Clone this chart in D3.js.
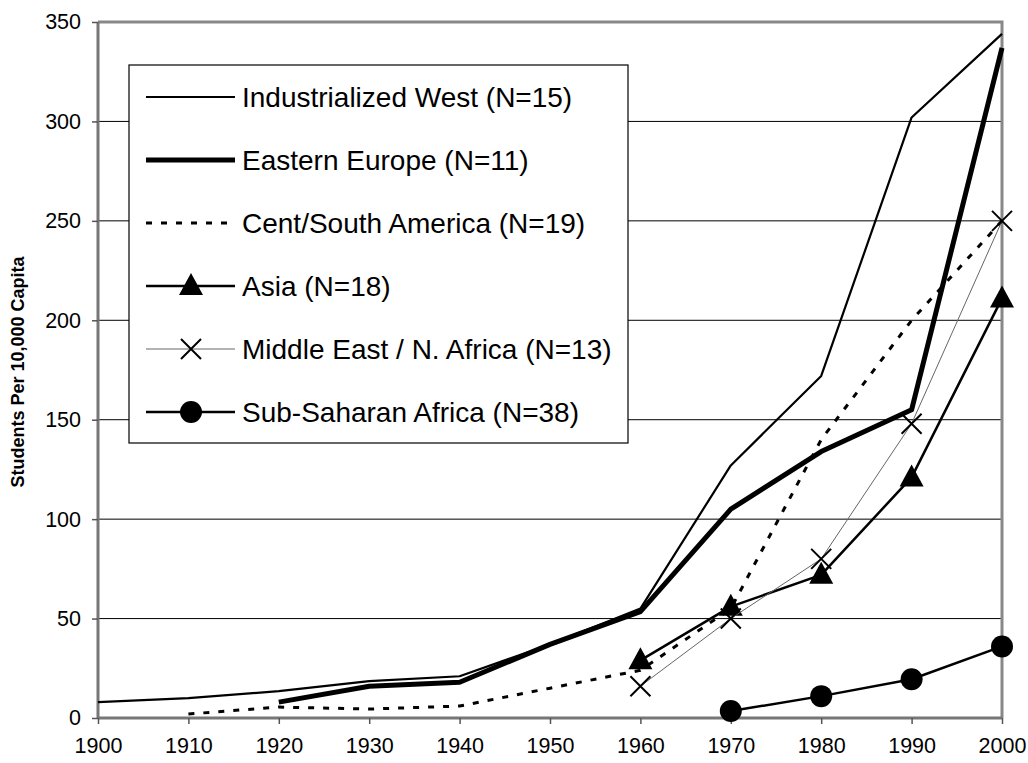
<!DOCTYPE html>
<html><head><meta charset="utf-8">
<script src="https://cdn.jsdelivr.net/npm/d3@7"></script>
<style>body{margin:0;background:#fff}svg{display:block;font-family:"Liberation Sans",Arial,sans-serif}</style>
</head><body><svg id="c" width="1028" height="763"></svg>
<script>
const years = [1900,1910,1920,1930,1940,1950,1960,1970,1980,1990,2000];
const yTicks = [0,50,100,150,200,250,300,350];
const industrializedWest = [8,10,13.5,18.5,21,37,55,127,172,302,344];
const easternEurope = [null,null,8,16,18,37,53.5,105,134,155,337];
const centSouthAmerica = [null,2,5.5,4.5,6,15,24,55,140,200,250];
const asia = [null,null,null,null,null,null,29,56,72,121,211];
const middleEast = [null,null,null,null,null,null,16,50,80,148,250];
const subSaharan = [null,null,null,null,null,null,null,3.5,11,19.5,36];
const seriesNames = ["Industrialized West (N=15)","Eastern Europe (N=11)","Cent/South America (N=19)","Asia (N=18)","Middle East / N. Africa (N=13)","Sub-Saharan Africa (N=38)"];

const series = [
  {name:seriesNames[0], values:industrializedWest, w:2.2, color:"#000", dash:null, marker:null},
  {name:seriesNames[1], values:easternEurope, w:5, color:"#000", dash:null, marker:null},
  {name:seriesNames[2], values:centSouthAmerica, w:3, color:"#000", dash:"6,9", marker:null},
  {name:seriesNames[3], values:asia, w:2.5, color:"#000", dash:null, marker:"tri"},
  {name:seriesNames[4], values:middleEast, w:1, color:"#666", dash:null, marker:"x"},
  {name:seriesNames[5], values:subSaharan, w:2.5, color:"#000", dash:null, marker:"circle"}
];

const svg = d3.select("#c");
const x = d3.scaleLinear().domain([1900,2000]).range([98,1002]);
const y = d3.scaleLinear().domain([0,350]).range([718,22]);

svg.append("g").selectAll("line").data(yTicks.filter(t=>t>0 && t<350)).join("line")
  .attr("x1",98).attr("x2",1002).attr("y1",d=>y(d)).attr("y2",d=>y(d))
  .attr("stroke","#000").attr("stroke-width",1);

svg.append("path").attr("d",`M98,${y(350)}H1002V718`).attr("fill","none").attr("stroke","#888").attr("stroke-width",3);

const yAxis = d3.axisLeft(y).tickValues(yTicks).tickSize(6).tickPadding(11).tickFormat(d3.format("d"));
const gy = svg.append("g").attr("transform","translate(98,0)").call(yAxis);
const xAxis = d3.axisBottom(x).tickValues(years).tickSize(6).tickPadding(14).tickFormat(d3.format("d"));
const gx = svg.append("g").attr("transform","translate(0,718)").call(xAxis);
[gx,gy].forEach(g=>{
  g.select(".domain").attr("stroke","#777").attr("stroke-width",3);
  g.selectAll(".tick line").attr("stroke","#555").attr("stroke-width",1.5);
  g.selectAll(".tick text").attr("font-size",21.5).attr("fill","#000").attr("font-family","Liberation Sans, Arial, sans-serif");
});
gy.select(".domain").attr("d","M0,718V22");
gx.select(".domain").attr("d","M98,0H1002");

svg.append("text").attr("transform","translate(24,372) rotate(-90)").attr("text-anchor","middle")
  .attr("font-size",18).attr("font-weight","bold").text("Students Per 10,000 Capita");

const line = d3.line().defined(d=>d.v!=null).x(d=>x(d.yr)).y(d=>y(d.v));
const plot = svg.append("g");
function drawMarker(g, type, cx, cy){
  if(type==="tri"){
    g.append("path").attr("d",`M${cx},${cy-13}L${cx+12},${cy+9}L${cx-12},${cy+9}Z`).attr("fill","#000");
  } else if(type==="x"){
    g.append("path").attr("d",`M${cx-10},${cy-10}L${cx+10},${cy+10}M${cx-10},${cy+10}L${cx+10},${cy-10}`).attr("stroke","#000").attr("stroke-width",2);
  } else if(type==="circle"){
    g.append("circle").attr("cx",cx).attr("cy",cy).attr("r",11).attr("fill","#000");
  }
}
series.forEach(s=>{
  const pts = years.map((yr,i)=>({yr,v:s.values[i]}));
  plot.append("path").datum(pts).attr("d",line).attr("fill","none").attr("stroke",s.color)
    .attr("stroke-width",s.w).attr("stroke-dasharray",s.dash).attr("stroke-linejoin","round");
  if(s.marker){
    pts.filter(p=>p.v!=null).forEach(p=>drawMarker(plot,s.marker,x(p.yr),y(p.v)));
  }
});

const lg = svg.append("g");
lg.append("rect").attr("x",129).attr("y",65).attr("width",499).attr("height",378).attr("fill","#fff").attr("stroke","#000").attr("stroke-width",1.2);
series.forEach((s,i)=>{
  const cy = 97 + i*63;
  lg.append("line").attr("x1",146).attr("x2",235).attr("y1",cy).attr("y2",cy).attr("stroke",s.color)
    .attr("stroke-width",s.w).attr("stroke-dasharray",s.dash);
  if(s.marker) drawMarker(lg,s.marker,191,cy);
  lg.append("text").attr("x",242).attr("y",cy).attr("dy","0.36em").attr("font-size",28).text(s.name);
});
</script></body></html>
